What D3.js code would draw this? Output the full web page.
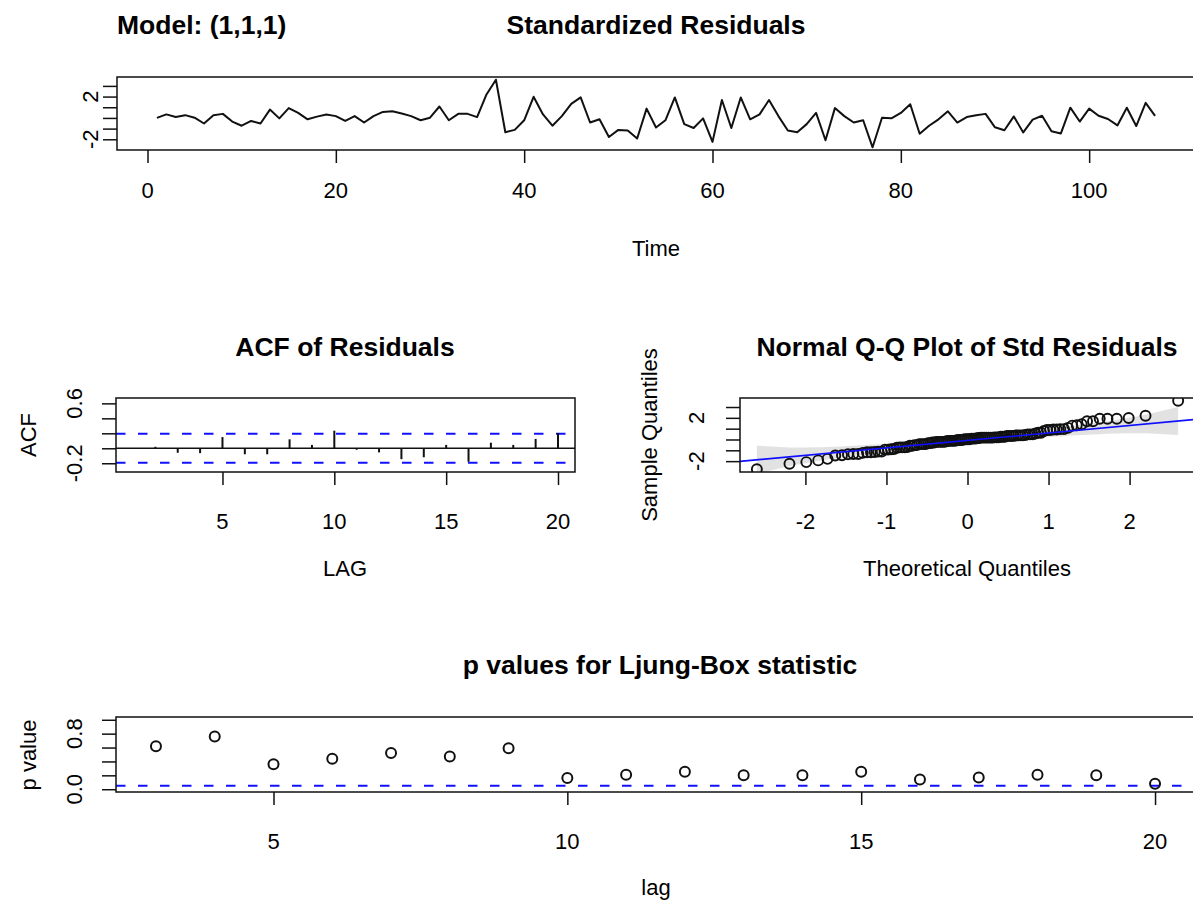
<!DOCTYPE html>
<html lang="en">
<head>
<meta charset="UTF-8">
<title>sarima diagnostics</title>
<script src="https://d3js.org/d3.v7.min.js"></script>
<style>
  body { margin: 0; background: #fff; }
  svg { font-family: "Liberation Sans", Arial, Helvetica, sans-serif; }
</style>
</head>
<body>
<div id="chart"></div>
<script>
// standardized residuals, t = 1..107
const resid = [
  0.0, 0.33, 0.08, 0.26, 0.02, -0.52, 0.26, 0.38, -0.34, -0.73,
  -0.28, -0.52, 0.78, -0.04, 0.92, 0.47, -0.13, 0.12, 0.33, 0.17,
  -0.28, 0.17, -0.43, 0.17, 0.56, 0.62, 0.41, 0.17, -0.22, 0.02,
  1.07, -0.22, 0.38, 0.38, 0.08, 2.2, 3.58, -1.34, -1.12, -0.22,
  1.98, 0.33, -0.73, 0.17, 1.32, 1.92, -0.43, -0.13, -1.79, -1.12,
  -1.18, -1.93, 0.87, -0.9, -0.22, 1.92, -0.58, -0.94, -0.04, -2.24,
  1.68, -0.94, 1.92, -0.13, 0.33, 1.68, 0.17, -1.18, -1.34, -0.58,
  0.47, -2.09, 0.92, 0.17, -0.43, -0.22, -2.75, 0.02, -0.04, 0.47,
  1.28, -1.48, -0.73, -0.13, 0.62, -0.43, 0.08, 0.26, 0.38, -0.88,
  -1.15, 0.14, -1.36, -0.16, 0.2, -1.24, -1.45, 0.96, -0.34, 0.87,
  0.2, -0.1, -0.7, 0.96, -0.76, 1.41, 0.2
];
const timeTicks = [0, 20, 40, 60, 80, 100];
const residTicks = [-2, -1, 0, 1, 2, 3];
const residTickLabels = ["-2", "", "", "", "2", ""];

// ACF of residuals
const acfLags = d3.range(1, 21);
const acfValues = [-0.01, 0.02, -0.06, -0.065, 0.15, -0.08, -0.08, 0.12, 0.045, 0.235,
                   -0.02, -0.055, -0.145, -0.12, 0.045, -0.18, 0.075, 0.045, 0.125, 0.205];
const acfLimit = 0.193;
const acfXTicks = [5, 10, 15, 20];
const acfYTicks = [-0.2, 0, 0.2, 0.4, 0.6];
const acfYTickLabels = ["-0.2", "", "", "", "0.6"];

// Q-Q plot axes
const qqXTicks = [-2, -1, 0, 1, 2];
const qqYTicks = [-2, -1, 0, 1, 2, 3];
const qqYTickLabels = ["-2", "", "", "", "2", ""];

// Ljung-Box p values
const lbLags = d3.range(3, 21);
const lbPValues = [0.62, 0.76, 0.36, 0.44, 0.52, 0.47, 0.59, 0.16, 0.21, 0.25,
                   0.20, 0.20, 0.25, 0.14, 0.17, 0.21, 0.20, 0.08];
const lbLimit = 0.05;
const lbXTicks = [5, 10, 15, 20];
const lbYTicks = [0, 0.2, 0.4, 0.6, 0.8, 1.0];
const lbYTickLabels = ["0.0", "", "", "", "0.8", ""];

const W = 1193, H = 901;
const FS = 22, TFS = 26.5;
const INK = '#111', BLUE = '#1010ff';
const svg = d3.select('#chart').append('svg')
    .attr('width', W).attr('height', H);

const pad = ([a, b]) => [a - 0.04 * (b - a), b + 0.04 * (b - a)];
let clipId = 0;

function panel(box, xDom, yDom) {
    const x = d3.scaleLinear().domain(pad(xDom)).range([box.left, box.right]);
    const y = d3.scaleLinear().domain(pad(yDom)).range([box.bottom, box.top]);
    const id = 'clip' + (clipId++);
    svg.append('clipPath').attr('id', id).append('rect')
        .attr('x', box.left).attr('y', box.top)
        .attr('width', box.right - box.left).attr('height', box.bottom - box.top);
    const g = svg.append('g').attr('clip-path', `url(#${id})`);
    return { x, y, g, box };
}

function frame(p) {
    svg.append('rect')
        .attr('x', p.box.left).attr('y', p.box.top)
        .attr('width', p.box.right - p.box.left).attr('height', p.box.bottom - p.box.top)
        .attr('fill', 'none').attr('stroke', INK).attr('stroke-width', 1.5);
}

function xAxis(p, ticks, labelY) {
    svg.append('g').attr('transform', `translate(0,${p.box.bottom})`)
        .call(d3.axisBottom(p.x).tickValues(ticks).tickSize(13).tickFormat(''))
        .call(a => a.select('.domain').remove())
        .call(a => a.selectAll('line').attr('stroke', INK).attr('stroke-width', 1.5));
    svg.append('g').selectAll('text').data(ticks).join('text')
        .attr('x', d => p.x(d)).attr('y', labelY).attr('dy', '0.35em')
        .attr('text-anchor', 'middle').attr('font-size', FS)
        .text(d => d);
}

function yAxis(p, ticks, labels, labelX) {
    svg.append('g').attr('transform', `translate(${p.box.left},0)`)
        .call(d3.axisLeft(p.y).tickValues(ticks).tickSize(14).tickFormat(''))
        .call(a => a.select('.domain').remove())
        .call(a => a.selectAll('line').attr('stroke', INK).attr('stroke-width', 1.5));
    svg.append('g').selectAll('text').data(ticks).join('text')
        .attr('transform', d => `translate(${labelX},${p.y(d)}) rotate(-90)`)
        .attr('dy', '0.35em').attr('text-anchor', 'middle').attr('font-size', FS)
        .text((d, i) => labels[i]);
}

function label(x, y, txt, opts = {}) {
    svg.append('text')
        .attr('transform', `translate(${x},${y})` + (opts.rotate ? ' rotate(-90)' : ''))
        .attr('dy', '0.35em')
        .attr('text-anchor', opts.anchor || 'middle')
        .attr('font-size', opts.bold ? TFS : FS)
        .attr('font-weight', opts.bold ? 'bold' : 'normal')
        .text(txt);
}

function hline(p, v, dashed) {
    p.g.append('line')
        .attr('x1', p.box.left).attr('x2', p.box.right)
        .attr('y1', p.y(v)).attr('y2', p.y(v))
        .attr('stroke', dashed ? BLUE : INK)
        .attr('stroke-width', dashed ? 2 : 1.5)
        .attr('stroke-dasharray', dashed ? '9.5,12.5' : null);
}

// ---------- standardized residuals ----------
label(117, 25, 'Model: (1,1,1)', { anchor: 'start', bold: true });
label(656, 25, 'Standardized Residuals', { bold: true });
const times = resid.map((d, i) => i + 1);
const p1 = panel({ left: 117, right: 1195, top: 77, bottom: 150 },
                 d3.extent(times), d3.extent(resid));
p1.g.append('path')
    .datum(resid)
    .attr('d', d3.line().x((d, i) => p1.x(times[i])).y(d => p1.y(d)))
    .attr('fill', 'none').attr('stroke', INK).attr('stroke-width', 2)
    .attr('stroke-linejoin', 'round');
frame(p1);
xAxis(p1, timeTicks, 190);
yAxis(p1, residTicks, residTickLabels, 90);
label(656, 248, 'Time');

// ---------- ACF ----------
label(345, 347, 'ACF of Residuals', { bold: true });
const p2 = panel({ left: 116, right: 575, top: 398, bottom: 472 },
                 d3.extent(acfLags),
                 [d3.min(acfValues) - 0.1, Math.min(1, d3.max(acfValues) + 0.4)]);
hline(p2, 0, false);
hline(p2, acfLimit, true);
hline(p2, -acfLimit, true);
p2.g.selectAll('.bar').data(acfValues).join('line')
    .attr('x1', (d, i) => p2.x(acfLags[i])).attr('x2', (d, i) => p2.x(acfLags[i]))
    .attr('y1', p2.y(0)).attr('y2', d => p2.y(d))
    .attr('stroke', INK).attr('stroke-width', 2);
frame(p2);
xAxis(p2, acfXTicks, 521);
yAxis(p2, acfYTicks, acfYTickLabels, 74);
label(345, 568, 'LAG');
label(28, 435, 'ACF', { rotate: true });

// ---------- Normal Q-Q ----------
// inverse normal CDF (Acklam)
function qnorm(p) {
    const a = [-39.69683028665376, 220.9460984245205, -275.9285104469687, 138.3577518672690, -30.66479806614716, 2.506628277459239];
    const b = [-54.47609879822406, 161.5858368580409, -155.6989798598866, 66.80131188771972, -13.28068155288572];
    const c = [-0.007784894002430293, -0.3223964580411365, -2.400758277161838, -2.549732539343734, 4.374664141464968, 2.938163982698783];
    const e = [0.007784695709041462, 0.3224671290700398, 2.445134137142996, 3.754408661907416];
    const pl = 0.02425;
    if (p < pl) {
        const q = Math.sqrt(-2 * Math.log(p));
        return (((((c[0]*q+c[1])*q+c[2])*q+c[3])*q+c[4])*q+c[5]) / ((((e[0]*q+e[1])*q+e[2])*q+e[3])*q+1);
    }
    if (p > 1 - pl) return -qnorm(1 - p);
    const q = p - 0.5, r = q * q;
    return (((((a[0]*r+a[1])*r+a[2])*r+a[3])*r+a[4])*r+a[5])*q / (((((b[0]*r+b[1])*r+b[2])*r+b[3])*r+b[4])*r+1);
}
const dnorm = z => Math.exp(-z * z / 2) / Math.sqrt(2 * Math.PI);
const n = resid.length;
const sorted = resid.slice().sort(d3.ascending);
const pp = sorted.map((d, i) => (i + 1 - 0.5) / n);
const zq = pp.map(qnorm);
const q1 = d3.quantile(sorted, 0.25), q3 = d3.quantile(sorted, 0.75);
const slope = (q3 - q1) / (qnorm(0.75) - qnorm(0.25));
const icpt = q1 - slope * qnorm(0.25);
const se = zq.map((z, i) => (slope / dnorm(z)) * Math.sqrt(pp[i] * (1 - pp[i]) / n));
const bandMult = 3.9;   // envelope half-width, in standard errors, as drawn in the picture

label(967, 347, 'Normal Q-Q Plot of Std Residuals', { bold: true });
const p3 = panel({ left: 740, right: 1195, top: 398, bottom: 472 },
                 d3.extent(zq), d3.extent(sorted));
const band = zq.map((z, i) => [z, icpt + slope * z + bandMult * se[i]])
    .concat(zq.map((z, i) => [z, icpt + slope * z - bandMult * se[i]]).reverse());
p3.g.append('path')
    .attr('d', d3.line().x(d => p3.x(d[0])).y(d => p3.y(d[1]))(band) + 'Z')
    .attr('fill', 'rgba(150,150,150,0.28)').attr('stroke', 'none');
p3.g.selectAll('circle').data(sorted).join('circle')
    .attr('cx', (d, i) => p3.x(zq[i])).attr('cy', d => p3.y(d)).attr('r', 5)
    .attr('fill', 'none').attr('stroke', INK).attr('stroke-width', 1.9);
const xd = p3.x.domain();
p3.g.append('line')
    .attr('x1', p3.x(xd[0])).attr('x2', p3.x(xd[1]))
    .attr('y1', p3.y(icpt + slope * xd[0])).attr('y2', p3.y(icpt + slope * xd[1]))
    .attr('stroke', BLUE).attr('stroke-width', 1.6);
frame(p3);
xAxis(p3, qqXTicks, 521);
yAxis(p3, qqYTicks, qqYTickLabels, 696);
label(967, 568, 'Theoretical Quantiles');
label(649, 435, 'Sample Quantiles', { rotate: true });

// ---------- Ljung-Box ----------
label(660, 665, 'p values for Ljung-Box statistic', { bold: true });
const p4 = panel({ left: 116, right: 1195, top: 717, bottom: 792 },
                 d3.extent(lbLags), [0, 1]);
hline(p4, lbLimit, true);
p4.g.selectAll('circle').data(lbPValues).join('circle')
    .attr('cx', (d, i) => p4.x(lbLags[i])).attr('cy', d => p4.y(d)).attr('r', 5)
    .attr('fill', 'none').attr('stroke', INK).attr('stroke-width', 2);
frame(p4);
xAxis(p4, lbXTicks, 841);
yAxis(p4, lbYTicks, lbYTickLabels, 74);
label(656, 887, 'lag');
label(28, 755, 'p value', { rotate: true });
</script>
</body>
</html>
